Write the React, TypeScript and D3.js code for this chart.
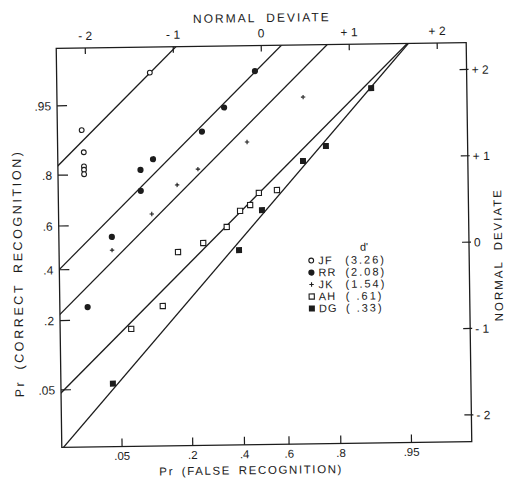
import { useEffect, useRef } from "react";
import * as d3 from "d3";

// subjects and their d' values as printed in the key
const subjects = ["JF", "RR", "JK", "AH", "DG"];
const dPrimeLabels = ["(3.26)", "(2.08)", "(1.54)", "( .61)", "( .33)"];

// [Pr(false recognition), Pr(correct recognition)]
const jfPoints = [[0.102, 0.978], [0.020, 0.913], [0.021, 0.865], [0.021, 0.826], [0.021, 0.816], [0.021, 0.802]];
const rrPoints = [[0.470, 0.978], [0.333, 0.945], [0.246, 0.907], [0.106, 0.844], [0.082, 0.813], [0.082, 0.741], [0.042, 0.547], [0.022, 0.245]];
const jkPoints = [[0.680, 0.956], [0.430, 0.884], [0.230, 0.813], [0.164, 0.761], [0.102, 0.647], [0.042, 0.486]];
const ahPoints = [[0.164, 0.473], [0.245, 0.513], [0.337, 0.585], [0.395, 0.655], [0.440, 0.679], [0.480, 0.727], [0.562, 0.737], [0.123, 0.245], [0.064, 0.171]];
const dgPoints = [[0.893, 0.964], [0.764, 0.872], [0.676, 0.833], [0.493, 0.657], [0.388, 0.478], [0.041, 0.057]];

// fitted lines in normal-deviate units: zHit = intercept + slope * zFalse
const lineIntercepts = [3.28, 2.08, 1.56, 0.65, 0.37];
const lineSlopes = [1, 1, 1, 1, 1.16];

const deviateTicks = [-2, -1, 0, 1, 2];
const topDeviateLabels = ["- 2", "- 1", "0", "+ 1", "+ 2"];
const rightDeviateLabels = ["- 2", "- 1", "0", "+ 1", "+ 2"];
const probTicks = [0.05, 0.2, 0.4, 0.6, 0.8, 0.95];
const probLabels = [".05", ".2", ".4", ".6", ".8", ".95"];

// inverse normal cdf (Acklam)
const probit = (p: number) => {
  const a = [-39.69683028665376, 220.9460984245205, -275.9285104469687, 138.357751867269, -30.66479806614716, 2.506628277459239];
  const b = [-54.47609879822406, 161.5858368580409, -155.6989798598866, 66.80131188771972, -13.28068155288572];
  const c = [-0.007784894002430293, -0.3223964580411365, -2.400758277161838, -2.549732539343734, 4.374664141464968, 2.938163982698783];
  const d = [0.007784695709041462, 0.3224671290700398, 2.445134137142996, 3.754408661907416];
  const plow = 0.02425;
  if (p < plow) {
    const q = Math.sqrt(-2 * Math.log(p));
    return (((((c[0] * q + c[1]) * q + c[2]) * q + c[3]) * q + c[4]) * q + c[5]) / ((((d[0] * q + d[1]) * q + d[2]) * q + d[3]) * q + 1);
  }
  if (p > 1 - plow) {
    const q = Math.sqrt(-2 * Math.log(1 - p));
    return -(((((c[0] * q + c[1]) * q + c[2]) * q + c[3]) * q + c[4]) * q + c[5]) / ((((d[0] * q + d[1]) * q + d[2]) * q + d[3]) * q + 1);
  }
  const q = p - 0.5;
  const r = q * q;
  return ((((((a[0] * r + a[1]) * r + a[2]) * r + a[3]) * r + a[4]) * r + a[5]) * q) / (((((b[0] * r + b[1]) * r + b[2]) * r + b[3]) * r + b[4]) * r + 1);
};

const App = () => {
  const svgRef = useRef<SVGSVGElement>(null);

  const width = 506;
  const height = 481;

  useEffect(() => {
    if (!svgRef.current) return;
    const svg = d3.select(svgRef.current);
    svg.selectAll("*").remove();

    const left = 59, right = 469, top = 45.5, bottom = 444.5;
    const ink = "#1c1c1c";
    const font = "'Liberation Sans', Arial, sans-serif";

    const x = d3.scaleLinear().domain([-2.33, 2.33]).range([left, right]);
    const y = d3.scaleLinear().domain([-2.31, 2.31]).range([bottom, top]);

    svg.append("rect").attr("width", width).attr("height", height).attr("fill", "#fff");

    // the scanned figure sits slightly tilted
    const g = svg.append("g").attr("transform", "rotate(-0.8, 264, 245)");

    g.append("defs").append("clipPath").attr("id", "plot-clip")
      .append("rect").attr("x", left).attr("y", top).attr("width", right - left).attr("height", bottom - top);

    // frame
    g.append("rect")
      .attr("x", left).attr("y", top)
      .attr("width", right - left).attr("height", bottom - top)
      .attr("fill", "none").attr("stroke", ink).attr("stroke-width", 1.3);

    // top axis: normal deviate
    deviateTicks.forEach((t, i) => {
      g.append("line").attr("x1", x(t)).attr("x2", x(t)).attr("y1", top).attr("y2", top + 6)
        .attr("stroke", ink).attr("stroke-width", 1.2);
      g.append("text").attr("x", x(t)).attr("y", top - 8).attr("text-anchor", "middle")
        .attr("font-size", 12).attr("font-family", font).attr("fill", ink)
        .attr("style", "white-space: pre").text(topDeviateLabels[i]);
    });
    g.append("text").attr("x", 265).attr("y", 22).attr("text-anchor", "middle")
      .attr("font-size", 12).attr("font-family", font).attr("fill", ink)
      .attr("letter-spacing", 2).attr("word-spacing", 5).text("NORMAL DEVIATE");

    // right axis: normal deviate
    deviateTicks.forEach((t, i) => {
      g.append("line").attr("x1", right - 7).attr("x2", right + 2).attr("y1", y(t)).attr("y2", y(t))
        .attr("stroke", ink).attr("stroke-width", 1.2);
      g.append("text").attr("x", right + 5).attr("y", y(t) + 4.5)
        .attr("font-size", 12).attr("font-family", font).attr("fill", ink)
        .attr("style", "white-space: pre").text(rightDeviateLabels[i]);
    });
    // the scan cuts this title at the page edge; keep it just inside
    g.append("text").attr("transform", "translate(502, 258) rotate(-90)").attr("text-anchor", "middle")
      .attr("font-size", 11.5).attr("font-family", font).attr("fill", ink)
      .attr("letter-spacing", 2).attr("word-spacing", 5).text("NORMAL DEVIATE");

    // left axis: Pr (correct recognition)
    probTicks.forEach((p, i) => {
      g.append("line").attr("x1", left).attr("x2", left + 10).attr("y1", y(probit(p))).attr("y2", y(probit(p)))
        .attr("stroke", ink).attr("stroke-width", 1.2);
      g.append("text").attr("x", left - 6).attr("y", y(probit(p)) + 4.5).attr("text-anchor", "end")
        .attr("font-size", 12).attr("font-family", font).attr("fill", ink).text(probLabels[i]);
    });
    g.append("text").attr("transform", "translate(22, 270) rotate(-90)").attr("text-anchor", "middle")
      .attr("font-size", 12.5).attr("font-family", font).attr("fill", ink)
      .attr("letter-spacing", 2.6).attr("word-spacing", 4).text("Pr (CORRECT RECOGNITION)");

    // bottom axis: Pr (false recognition)
    probTicks.forEach((p, i) => {
      g.append("line").attr("x1", x(probit(p))).attr("x2", x(probit(p))).attr("y1", bottom).attr("y2", bottom - 8)
        .attr("stroke", ink).attr("stroke-width", 1.2);
      g.append("text").attr("x", x(probit(p))).attr("y", bottom + 13.5).attr("text-anchor", "middle")
        .attr("font-size", 11.5).attr("font-family", font).attr("fill", ink).text(probLabels[i]);
    });
    g.append("text").attr("x", 248).attr("y", 474).attr("text-anchor", "middle")
      .attr("font-size", 11.5).attr("font-family", font).attr("fill", ink)
      .attr("letter-spacing", 1.6).attr("word-spacing", 3).text("Pr (FALSE RECOGNITION)");

    // fitted lines
    const lines = g.append("g").attr("clip-path", "url(#plot-clip)");
    lineIntercepts.forEach((b, i) => {
      const xs = [-2.6, 2.6];
      const pts = xs.map((v) => [x(v), y(b + lineSlopes[i] * v)] as [number, number]);
      lines.append("path")
        .attr("d", d3.line()(pts))
        .attr("fill", "none").attr("stroke", ink).attr("stroke-width", 1.3);
    });

    // markers
    const drawMarker = (sel: d3.Selection<SVGGElement, unknown, null, undefined>, kind: number, cx: number, cy: number) => {
      if (kind === 0) {
        sel.append("circle").attr("cx", cx).attr("cy", cy).attr("r", 2.4)
          .attr("fill", "#fff").attr("stroke", ink).attr("stroke-width", 1.1);
      } else if (kind === 1) {
        sel.append("circle").attr("cx", cx).attr("cy", cy).attr("r", 3.1).attr("fill", ink);
      } else if (kind === 2) {
        sel.append("path").attr("d", `M${cx - 2.2},${cy}H${cx + 2.2}M${cx},${cy - 2.2}V${cy + 2.2}`)
          .attr("stroke", ink).attr("stroke-width", 1.1);
      } else if (kind === 3) {
        sel.append("rect").attr("x", cx - 2.6).attr("y", cy - 2.6).attr("width", 5.2).attr("height", 5.2)
          .attr("fill", "#fff").attr("stroke", ink).attr("stroke-width", 1.1);
      } else {
        sel.append("rect").attr("x", cx - 3).attr("y", cy - 3).attr("width", 6).attr("height", 6).attr("fill", ink);
      }
    };

    const allPoints = [jfPoints, rrPoints, jkPoints, ahPoints, dgPoints];
    const marks = g.append("g");
    allPoints.forEach((series, k) => {
      series.forEach(([pf, pc]) => drawMarker(marks, k, x(probit(pf)), y(probit(pc))));
    });

    // key
    const key = g.append("g");
    key.append("text").attr("x", 364).attr("y", 252).attr("text-anchor", "middle")
      .attr("font-size", 11).attr("font-family", font).attr("fill", ink).text("d'");
    subjects.forEach((s, i) => {
      const ky = 265 + i * 12;
      drawMarker(key, i, 311, ky - 3.8);
      key.append("text").attr("x", 318).attr("y", ky)
        .attr("font-size", 11).attr("font-family", font).attr("fill", ink)
        .attr("letter-spacing", 1.2).text(s);
      key.append("text").attr("x", 345).attr("y", ky)
        .attr("font-size", 11).attr("font-family", font).attr("fill", ink)
        .attr("letter-spacing", 2).attr("style", "white-space: pre").text(dPrimeLabels[i]);
    });
  }, []);

  return (
    <svg
      ref={svgRef}
      width={width}
      height={height}
      viewBox={`0 0 ${width} ${height}`}
      style={{ position: "absolute", left: 0, top: 0 }}
    />
  );
};

export default App;
